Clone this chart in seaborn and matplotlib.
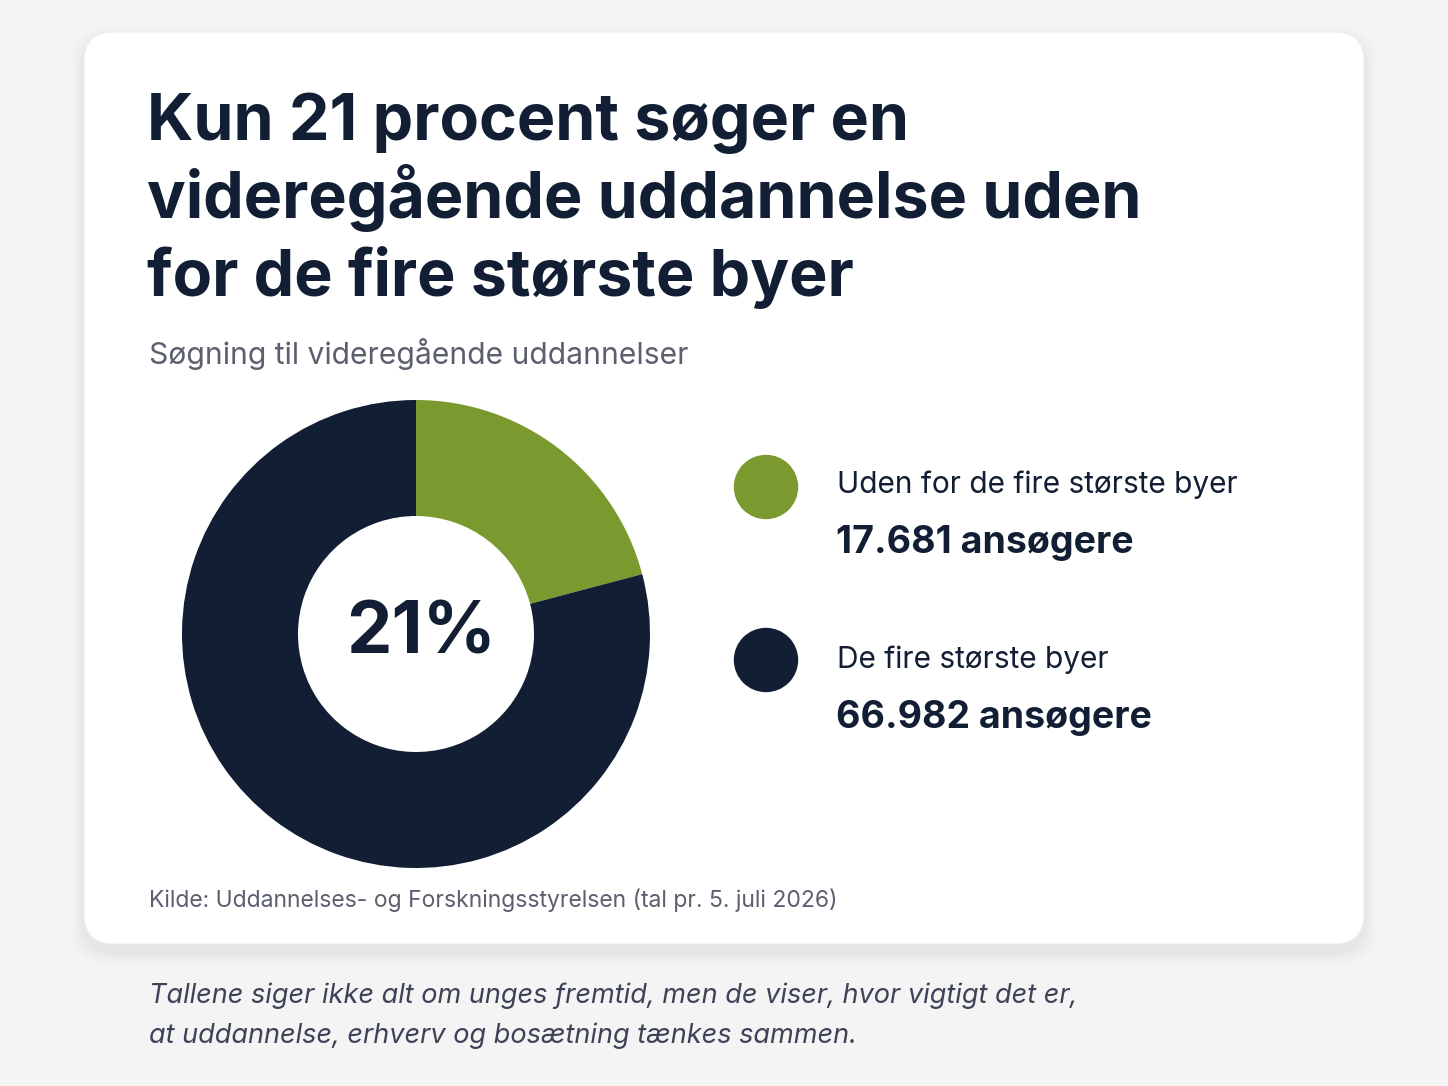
import matplotlib
matplotlib.use("Agg")
import matplotlib.pyplot as plt
import seaborn as sns
import pandas as pd
from matplotlib.patches import FancyBboxPatch

# data
categories = ["Uden for de fire største byer", "De fire største byer"]
applicants = [17681, 66982]
value_labels = ["17.681 ansøgere", "66.982 ansøgere"]
colors = ["#7a9a2f", "#121e34"]

title_lines = ["Kun 21 procent søger en",
               "videregående uddannelse uden",
               "for de fire største byer"]
subtitle = "Søgning til videregående uddannelser"
source = "Kilde: Uddannelses- og Forskningsstyrelsen (tal pr. 5. juli 2026)"
caption = ["Tallene siger ikke alt om unges fremtid, men de viser, hvor vigtigt det er,",
           "at uddannelse, erhverv og bosætning tænkes sammen."]

share = applicants[0] / sum(applicants)
center_label = f"{round(share * 100)}%"

sns.set_theme(style="white")
plt.rcParams["font.family"] = ["Inter", "DejaVu Sans"]

W, H = 1448, 1086
fig = plt.figure(figsize=(W / 100, H / 100), dpi=100)
fig.patch.set_facecolor("#f4f4f5")

# overlay axes in pixel coordinates (y down)
ov = fig.add_axes([0, 0, 1, 1])
ov.set_xlim(0, W)
ov.set_ylim(H, 0)
ov.axis("off")

# card shadow + card
for i, a in enumerate([0.008, 0.009, 0.010, 0.012, 0.014]):
    grow = 26 - i * 5
    sh = FancyBboxPatch((84 - grow / 2, 32 - grow / 2 + 8), 1280 + grow, 912 + grow,
                        boxstyle="round,pad=0,rounding_size=36",
                        fc="#000000", ec="none", alpha=a, zorder=1)
    ov.add_patch(sh)
card = FancyBboxPatch((84, 32), 1280, 912, boxstyle="round,pad=0,rounding_size=30",
                      fc="#ffffff", ec="#efeff1", lw=0.8, zorder=2)
ov.add_patch(card)

dark = "#121e34"
for i, line in enumerate(title_lines):
    ov.text(147, 140 + i * 78, line, fontsize=46.5, fontweight="bold", color=dark,
            va="baseline", ha="left", zorder=5)
ov.text(149, 364, subtitle, fontsize=21.6, color="#5b5f6e", va="baseline", zorder=5)

# legend
legend_df = pd.DataFrame({"x": [766, 766], "y": [487, 660], "cat": categories})
sns.scatterplot(data=legend_df, x="x", y="y", hue="cat", palette=colors, s=2150,
                linewidth=0, legend=False, ax=ov, zorder=5)
ov.set_xlabel("")
ov.set_ylabel("")
for i, (lab, val) in enumerate(zip(categories, value_labels)):
    y0 = 493 + i * 175
    ov.text(837, y0, lab, fontsize=21.5, color=dark, va="baseline", zorder=5)
    ov.text(836, y0 + 60, val, fontsize=27, fontweight="bold", color=dark,
            va="baseline", zorder=5)

ov.text(149, 907, source, fontsize=16.5, color="#5b5f6e", va="baseline", zorder=5)
for i, line in enumerate(caption):
    ov.text(149, 1003 + i * 40, line, fontsize=19.5, fontstyle="italic",
            color="#3d4256", va="baseline", zorder=5)

# donut
cx, cy, R = 416, 634, 234
pad = 1.1
side = 2 * R * pad
ax = fig.add_axes([(cx - side / 2) / W, 1 - (cy + side / 2) / H, side / W, side / H])
ax.pie(applicants, colors=colors, startangle=90, counterclock=False, radius=1,
       wedgeprops=dict(width=(R - 118) / R, linewidth=0))
ax.set_xlim(-pad, pad)
ax.set_ylim(-pad, pad)
ax.set_aspect("equal")
ax.axis("off")
ax.patch.set_alpha(0)
ax.text(0.02, 0.0, center_label, fontsize=52, fontweight="bold", color=dark,
        ha="center", va="center")

fig.savefig("out.png", dpi=100, facecolor=fig.get_facecolor())
